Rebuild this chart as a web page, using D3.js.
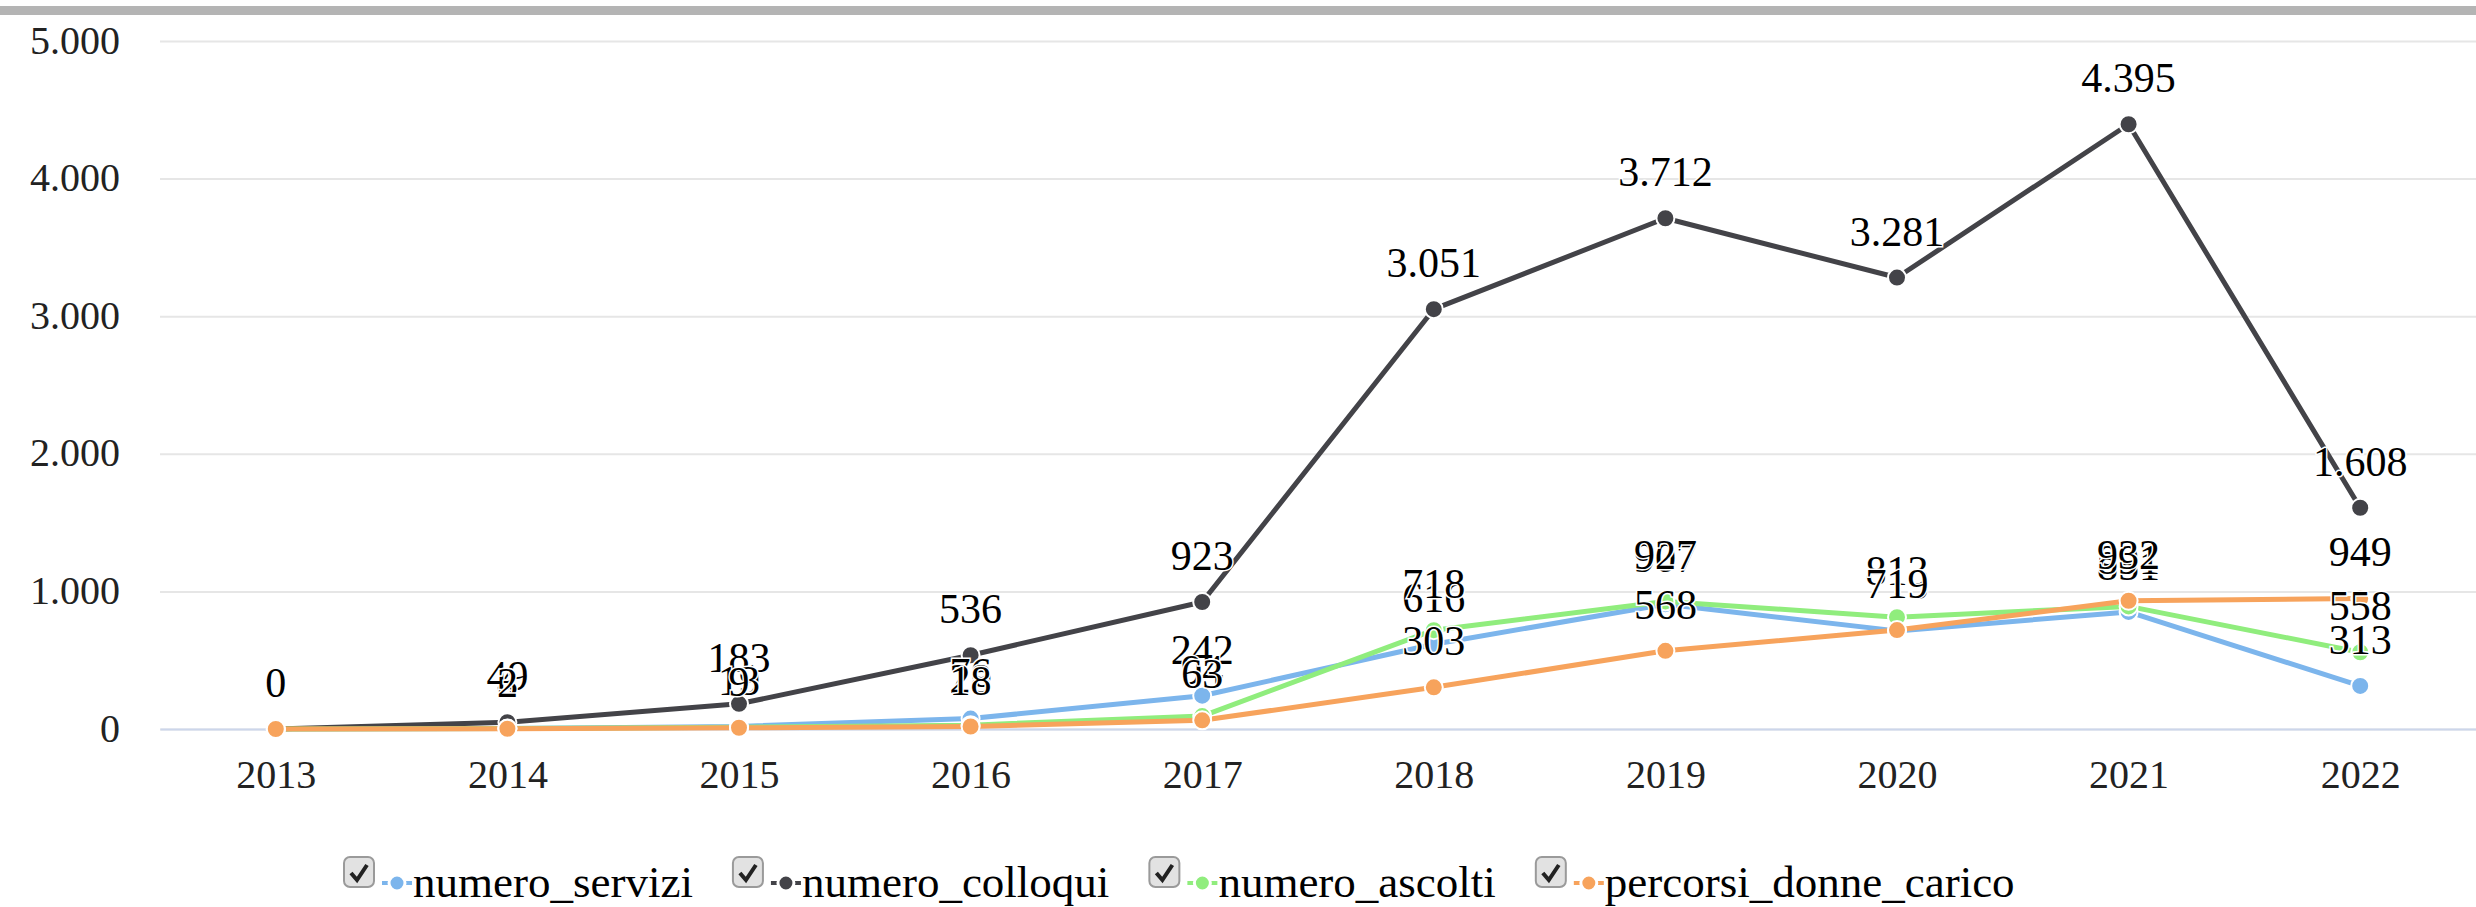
<!DOCTYPE html>
<html>
<head>
<meta charset="utf-8">
<script src="https://cdn.jsdelivr.net/npm/d3@7"></script>
<style>
  body { margin: 0; background: #fff; }
</style>
</head>
<body>
<div id="chart"></div>
<script>
// categories and series
const years = ["2013", "2014", "2015", "2016", "2017", "2018", "2019", "2020", "2021", "2022"]
const numeroServizi = [0, 4, 19, 76, 242, 616, 907, 713, 851, 313]
const numeroColloqui = [0, 49, 183, 536, 923, 3051, 3712, 3281, 4395, 1608]
const numeroAscolti = [0, 3, 13, 28, 94, 718, 927, 813, 891, 558]
const percorsiDonneCarico = [0, 2, 9, 18, 63, 303, 568, 719, 932, 949]
const yTicks = [0, 1000, 2000, 3000, 4000, 5000]

const seriesNames = ["numero_servizi", "numero_colloqui", "numero_ascolti", "percorsi_donne_carico"]
const seriesColors = ["#7cb5ec", "#434348", "#90ed7d", "#f7a35c"]
const seriesValues = [numeroServizi, numeroColloqui, numeroAscolti, percorsiDonneCarico]

const W = 2476, H = 907
const margin = {top: 41, right: 0, bottom: 178, left: 160}
const serif = "'Liberation Serif', 'Times New Roman', serif"

const it = d3.formatLocale({decimal: ",", thousands: ".", grouping: [3], currency: ["", "€"]})
const fmt = it.format(",")

const svg = d3.select("#chart")
  .append("svg")
    .attr("width", W)
    .attr("height", H)
    .style("font-family", serif)

// grey bar along the top
svg.append("rect")
  .attr("x", 0).attr("y", 6)
  .attr("width", W).attr("height", 9)
  .attr("fill", "#b4b4b4")

const x = d3.scalePoint()
  .domain(years)
  .range([margin.left, W - margin.right])
  .padding(0.5)

const y = d3.scaleLinear()
  .domain([0, 5000])
  .range([H - margin.bottom, margin.top])

// y axis with grid lines
const yAxis = svg.append("g")
  .attr("transform", "translate(" + margin.left + ",0)")
  .call(d3.axisLeft(y).tickValues(yTicks).tickFormat(fmt)
    .tickSize(-(W - margin.left - margin.right)).tickPadding(40))
yAxis.attr("font-family", serif)
yAxis.select(".domain").remove()
yAxis.selectAll(".tick line").attr("stroke", "#e6e6e6").attr("stroke-width", 2)
yAxis.selectAll(".tick text")
  .style("font-family", serif)
  .attr("font-size", 40)
  .attr("fill", "#222")
  .attr("dy", "0.3em")

// x axis
const xAxis = svg.append("g")
  .attr("transform", "translate(0," + y(0) + ")")
  .call(d3.axisBottom(x).tickSize(0).tickPadding(31).tickSizeOuter(0))
xAxis.attr("font-family", serif)
xAxis.select(".domain").attr("stroke", "#ccd6eb").attr("stroke-width", 2)
xAxis.selectAll(".tick text")
  .style("font-family", serif)
  .attr("font-size", 40)
  .attr("fill", "#222")

const line = d3.line()
  .x((d, i) => x(years[i]))
  .y(d => y(d))

const series = seriesNames.map((name, k) => ({name: name, color: seriesColors[k], values: seriesValues[k]}))

// lines
svg.append("g")
  .selectAll("path")
  .data(series)
  .enter().append("path")
    .attr("d", d => line(d.values))
    .attr("fill", "none")
    .attr("stroke", d => d.color)
    .attr("stroke-width", 5)
    .attr("stroke-linejoin", "round")

// markers
svg.append("g")
  .selectAll("g")
  .data(series)
  .enter().append("g")
    .attr("fill", d => d.color)
    .selectAll("circle")
    .data(d => d.values)
    .enter().append("circle")
      .attr("cx", (d, i) => x(years[i]))
      .attr("cy", d => y(d))
      .attr("r", 9)
      .attr("stroke", "#fff")
      .attr("stroke-width", 2)

// data labels
svg.append("g")
  .selectAll("g")
  .data(series)
  .enter().append("g")
    .selectAll("text")
    .data(d => d.values)
    .enter().append("text")
      .style("font-family", serif)
      .attr("x", (d, i) => x(years[i]))
      .attr("y", d => y(d) - 32)
      .attr("text-anchor", "middle")
      .attr("font-size", 42)
      .attr("fill", "#000")
      .attr("stroke", "#fff")
      .attr("stroke-width", 3)
      .attr("paint-order", "stroke")
      .text(d => fmt(d))

// legend with checkboxes
const legend = svg.append("g").attr("class", "legend")
let lx = 344
const ly = 873
series.forEach(s => {
  const g = legend.append("g").attr("transform", "translate(" + lx + "," + ly + ")")
  g.append("rect")
    .attr("x", 0).attr("y", -16)
    .attr("width", 30).attr("height", 30)
    .attr("rx", 6)
    .attr("fill", "#e2e2e2")
    .attr("stroke", "#9a9a9a")
    .attr("stroke-width", 2)
  g.append("path")
    .attr("d", "M7,0 L13,7 L23,-8")
    .attr("fill", "none")
    .attr("stroke", "#222")
    .attr("stroke-width", 4)
  g.append("line")
    .attr("x1", 38).attr("x2", 68)
    .attr("y1", 10).attr("y2", 10)
    .attr("stroke", s.color)
    .attr("stroke-width", 4)
  g.append("circle")
    .attr("cx", 53).attr("cy", 10)
    .attr("r", 8)
    .attr("fill", s.color)
    .attr("stroke", "#fff")
    .attr("stroke-width", 3)
  const t = g.append("text")
    .style("font-family", serif)
    .attr("x", 69).attr("y", 24)
    .attr("font-size", 45)
    .attr("fill", "#000")
    .text(s.name)
  lx += 69 + t.node().getComputedTextLength() + 40
})
</script>
</body>
</html>
